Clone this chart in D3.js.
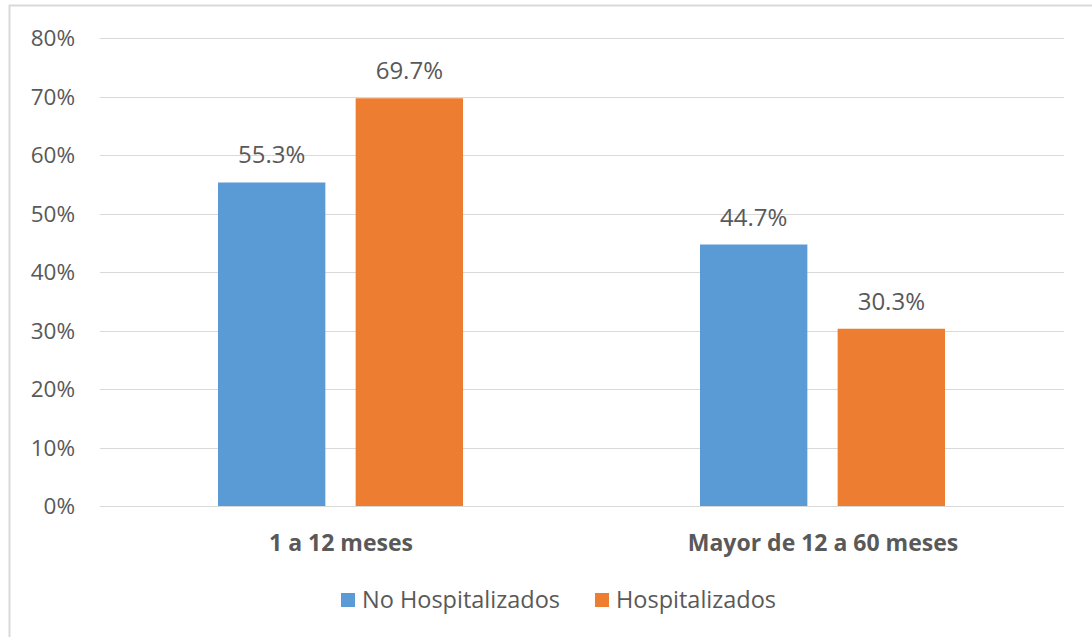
<!DOCTYPE html>
<html><head><meta charset="utf-8">
<script src="https://cdn.jsdelivr.net/npm/d3@7"></script>
<style>body{margin:0;background:#fff}svg{display:block}</style>
</head><body>
<script>
const categories = ["1 a 12 meses", "Mayor de 12 a 60 meses"];
const series = ["No Hospitalizados", "Hospitalizados"];
const noHosp = [55.3, 44.7];
const hosp = [69.7, 30.3];
const ticks = [0, 10, 20, 30, 40, 50, 60, 70, 80];
const colors = ["#5B9BD5", "#ED7D31"];

const W = 1092, H = 637;
const svg = d3.select("body").append("svg").attr("width", W).attr("height", H);
const font = "'Open Sans', sans-serif";
const txt = "#595959";

svg.append("rect").attr("x", 9.5).attr("y", 5.5).attr("width", W + 20).attr("height", H + 20)
  .attr("fill", "#fff").attr("stroke", "#d9d9d9").attr("stroke-width", 2);

const x0 = d3.scaleBand().domain(categories).range([100, 1064]);
const x1 = d3.scaleBand().domain(series).range([118, 363]).paddingInner(0.22).paddingOuter(0);
const y = d3.scaleLinear().domain([0, 80]).range([506, 38]);

svg.append("g").selectAll("line").data(ticks).join("line")
  .attr("x1", 100).attr("x2", 1064)
  .attr("y1", d => Math.round(y(d)) + 0.5).attr("y2", d => Math.round(y(d)) + 0.5)
  .attr("stroke", "#d9d9d9").attr("stroke-width", 1);

const yAxis = d3.axisLeft(y).tickValues(ticks).tickFormat(d => d + "%").tickSize(0).tickPadding(0);
const ga = svg.append("g").attr("transform", "translate(75,0)").call(yAxis);
ga.select(".domain").remove();
ga.selectAll("text").attr("font-family", font).attr("font-size", 22.5).attr("fill", txt).attr("dy", "0.35em");

const rows = categories.map((c, i) => ({ c, vals: [noHosp[i], hosp[i]] }));
const g = svg.append("g").selectAll("g").data(rows).join("g")
  .attr("transform", d => `translate(${x0(d.c)},0)`);
g.selectAll("rect").data(d => d.vals.map((v, j) => ({ s: series[j], v, j }))).join("rect")
  .attr("x", d => x1(d.s)).attr("width", x1.bandwidth())
  .attr("y", d => y(d.v)).attr("height", d => y(0) - y(d.v))
  .attr("fill", d => colors[d.j]);
g.selectAll("text").data(d => d.vals.map((v, j) => ({ s: series[j], v, j }))).join("text")
  .attr("x", d => x1(d.s) + x1.bandwidth() / 2).attr("y", d => y(d.v) - 19)
  .attr("text-anchor", "middle").attr("font-family", font).attr("font-size", 24).attr("fill", txt)
  .text(d => d.v.toFixed(1) + "%");

const xAxis = d3.axisBottom(x0).tickSize(0).tickPadding(0);
const gx = svg.append("g").attr("transform", "translate(0,543)").call(xAxis);
gx.select(".domain").remove();
gx.selectAll("text").attr("font-family", font).attr("font-size", 23).attr("font-weight", "bold")
  .attr("fill", txt).attr("dy", "0.35em");

const legX = [341, 595];
const lg = svg.append("g").selectAll("g").data(series).join("g")
  .attr("transform", (d, i) => `translate(${legX[i]},600)`);
lg.append("rect").attr("x", 0).attr("y", -7).attr("width", 14).attr("height", 14).attr("fill", (d, i) => colors[i]);
lg.append("text").attr("x", 21).attr("y", 0).attr("dy", "0.35em")
  .attr("font-family", font).attr("font-size", 23.5).attr("fill", txt).text(d => d);
</script>
</body></html>
